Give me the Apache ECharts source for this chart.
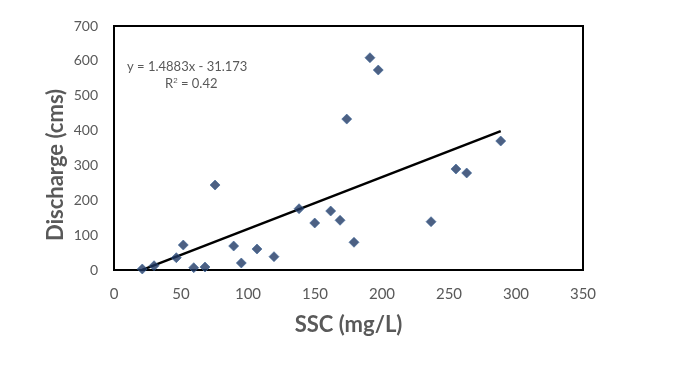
<!DOCTYPE html>
<html>
<head>
<meta charset="utf-8">
<script src="https://cdn.jsdelivr.net/npm/echarts@6/dist/echarts.min.js"></script>
<style>
html, body { margin: 0; padding: 0; background: #fff; }
#chart { width: 679px; height: 370px; }
</style>
</head>
<body>
<div id="chart"></div>
<script>
// values
var sscValues = [21.1, 29.9, 46.5, 51.7, 59.5, 67.9, 75.4, 89.3, 95.0, 106.7, 119.4, 138.1,
  149.8, 161.7, 168.7, 179.1, 191.0, 197.2, 173.7, 236.6, 255.2, 263.2, 288.6];
var dischargeValues = [2.9, 12.3, 35.3, 71.7, 6.6, 8.6, 243.8, 68.8, 20.1, 60.2, 38.2, 175.8,
  134.8, 169.2, 142.6, 79.5, 609, 573.7, 433, 138.6, 289.7, 278.3, 370];
// trendline ends, as drawn
var trendX = [21.1, 288.6];
var trendY = [0.2, 398.4];
var equationText = 'y = 1.4883x - 31.173';
var r2Text = 'R{sup|2} = 0.42';

var points = sscValues.map(function (x, i) { return [x, dischargeValues[i]]; });
var trend = trendX.map(function (x, i) { return [x, trendY[i]]; });

var font = 'Lato, "Open Sans", sans-serif';
var chart = echarts.init(document.getElementById('chart'));
chart.setOption({
  animation: false,
  grid: {
    left: 114, right: 96, top: 26, bottom: 100,
    show: true, borderColor: '#000', borderWidth: 2, backgroundColor: '#fff'
  },
  xAxis: {
    type: 'value', min: 0, max: 350, interval: 50,
    name: 'SSC (mg/L)', nameLocation: 'middle', nameGap: 44,
    nameTextStyle: { fontFamily: font, fontSize: 22, fontWeight: 'bold', color: '#595959' },
    axisLine: { show: true, lineStyle: { color: '#000', width: 2 } },
    axisTick: { show: false },
    splitLine: { show: false },
    axisLabel: { fontFamily: font, fontSize: 15, color: '#595959', margin: 17 }
  },
  yAxis: {
    type: 'value', min: 0, max: 700, interval: 100,
    axisLine: { show: true, lineStyle: { color: '#000', width: 2 } },
    axisTick: { show: false },
    splitLine: { show: false },
    axisLabel: { fontFamily: font, fontSize: 14, color: '#595959', margin: 16 }
  },
  graphic: [
    { type: 'text', x: 56, y: 165, rotation: Math.PI / 2,
      style: { text: 'Discharge (cms)', fontFamily: font, fontSize: 22, fontWeight: 'bold',
        fill: '#595959', align: 'center', verticalAlign: 'middle' } },
    { type: 'text', left: 127, top: 60,
      style: { text: equationText, fontFamily: font, fontSize: 13, fill: '#595959' } },
    { type: 'text', left: 165, top: 77,
      style: { text: r2Text, fontFamily: font, fontSize: 13, fill: '#595959',
        rich: { sup: { fontSize: 8, verticalAlign: 'top', padding: [0, 0, 6, 0], fill: '#595959' } } } }
  ],
  series: [
    {
      type: 'line', data: trend, symbol: 'none',
      lineStyle: { color: '#000', width: 2.5 }, z: 2
    },
    {
      type: 'scatter', data: points, symbol: 'diamond', symbolSize: 10,
      itemStyle: { color: '#1f3864', borderColor: '#3d6699', borderWidth: 0.8 }, z: 3
    }
  ]
});
</script>
</body>
</html>
